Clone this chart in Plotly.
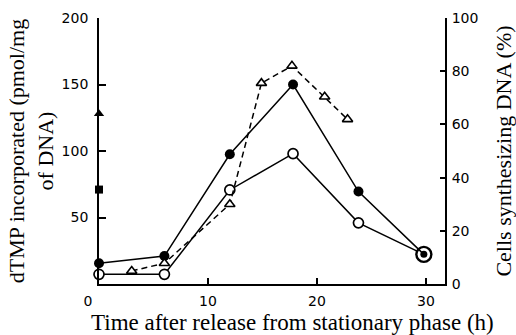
import plotly.graph_objects as go

# Time (h) after release from stationary phase
t_circles = [0, 6, 12, 17.8, 23.8, 29.8]
dtmp_filled = [15.6, 21, 97.5, 150, 69.5, 22.3]     # filled circles (left axis)
dtmp_open = [7.3, 7.3, 70.7, 98, 46, 22.3]          # open circles (left axis)

t_tri = [3, 6, 12, 14.9, 17.7, 20.7, 22.8]
cells_pct = [4.9, 7.8, 30, 75.5, 82, 70.4, 61.9]    # open triangles, dashed (right axis)

t_axis_pts = [0]
filled_triangle = [128]   # left axis
filled_square = [71]      # left axis

x_ticks = [0, 10, 20, 30]
x_ticktext = ["0\u00a0\u00a0\u00a0\u00a0\u00a0", "10", "20", "30"]
y_left_ticks = [50, 100, 150, 200]
y_right_ticks = [0, 20, 40, 60, 80, 100]

x_title = "Time after release from stationary phase (h)"
y_title = "dTMP incorporated (pmol/mg<br>of DNA)"
y2_title = "Cells synthesizing DNA (%)"

serif = "Liberation Serif"
sans = "DejaVu Sans"

fig = go.Figure()

fig.add_trace(go.Scatter(
    x=t_tri, y=cells_pct, yaxis="y2", mode="lines+markers",
    line=dict(color="black", width=1.5, dash="6px,4px"),
    marker=dict(symbol="triangle-up", size=9, color="white", opacity=1,
                line=dict(color="black", width=1.6)),
    cliponaxis=False, showlegend=False))

fig.add_trace(go.Scatter(
    x=t_circles, y=dtmp_open, mode="lines+markers",
    line=dict(color="black", width=1.5),
    marker=dict(symbol="circle", size=[10, 10, 10, 10, 10, 15], color="white", opacity=1,
                line=dict(color="black", width=[1.7, 1.7, 1.7, 1.7, 1.7, 2.4])),
    cliponaxis=False, showlegend=False))

fig.add_trace(go.Scatter(
    x=t_circles, y=dtmp_filled, mode="lines+markers",
    line=dict(color="black", width=1.5),
    marker=dict(symbol="circle", size=[10, 10, 10, 10, 10, 7], color="black", opacity=1,
                line=dict(color="black", width=0)),
    cliponaxis=False, showlegend=False))

fig.add_trace(go.Scatter(
    x=t_axis_pts, y=filled_triangle, mode="markers",
    marker=dict(symbol="triangle-up", size=9, color="black", opacity=1,
                line=dict(color="black", width=0)),
    cliponaxis=False, showlegend=False))

fig.add_trace(go.Scatter(
    x=t_axis_pts, y=filled_square, mode="markers",
    marker=dict(symbol="square", size=8, color="black", opacity=1,
                line=dict(color="black", width=0)),
    cliponaxis=False, showlegend=False))

fig.update_layout(
    width=516, height=335,
    margin=dict(l=99, r=71, t=18, b=51, autoexpand=False),
    paper_bgcolor="white", plot_bgcolor="white",
    font=dict(family=sans, size=14, color="black"),
    xaxis=dict(
        range=[0, 31.74], tickvals=x_ticks, ticktext=x_ticktext, automargin=False,
        ticks="inside", ticklen=6, tickwidth=1.5, tickcolor="black",
        showline=True, linecolor="black", linewidth=1.7,
        showgrid=False, zeroline=False, ticklabelstandoff=3,
        tickfont=dict(family=sans, size=14),
    ),
    yaxis=dict(
        range=[0, 200], tickvals=y_left_ticks, automargin=False,
        ticks="inside", ticklen=7, tickwidth=1.5, tickcolor="black",
        showline=True, linecolor="black", linewidth=1.7,
        showgrid=False, zeroline=False, ticklabelstandoff=6,
        tickfont=dict(family=sans, size=14),
        title=dict(text=y_title, font=dict(family=serif, size=22), standoff=2),
    ),
    yaxis2=dict(
        range=[0, 100], tickvals=y_right_ticks, overlaying="y", side="right",
        automargin=False,
        ticks="inside", ticklen=5, tickwidth=1.5, tickcolor="black",
        showline=True, linecolor="black", linewidth=1.7,
        showgrid=False, zeroline=False, ticklabelstandoff=2,
        tickfont=dict(family=sans, size=14),
        title=dict(text=y2_title, font=dict(family=serif, size=22), standoff=22),
    ),
    annotations=[dict(
        text=x_title, xref="paper", yref="paper", x=0.558, y=-0.1429,
        xanchor="center", yanchor="middle", showarrow=False,
        font=dict(family=serif, size=23, color="black"),
    )],
)

fig.write_html("out.html")
